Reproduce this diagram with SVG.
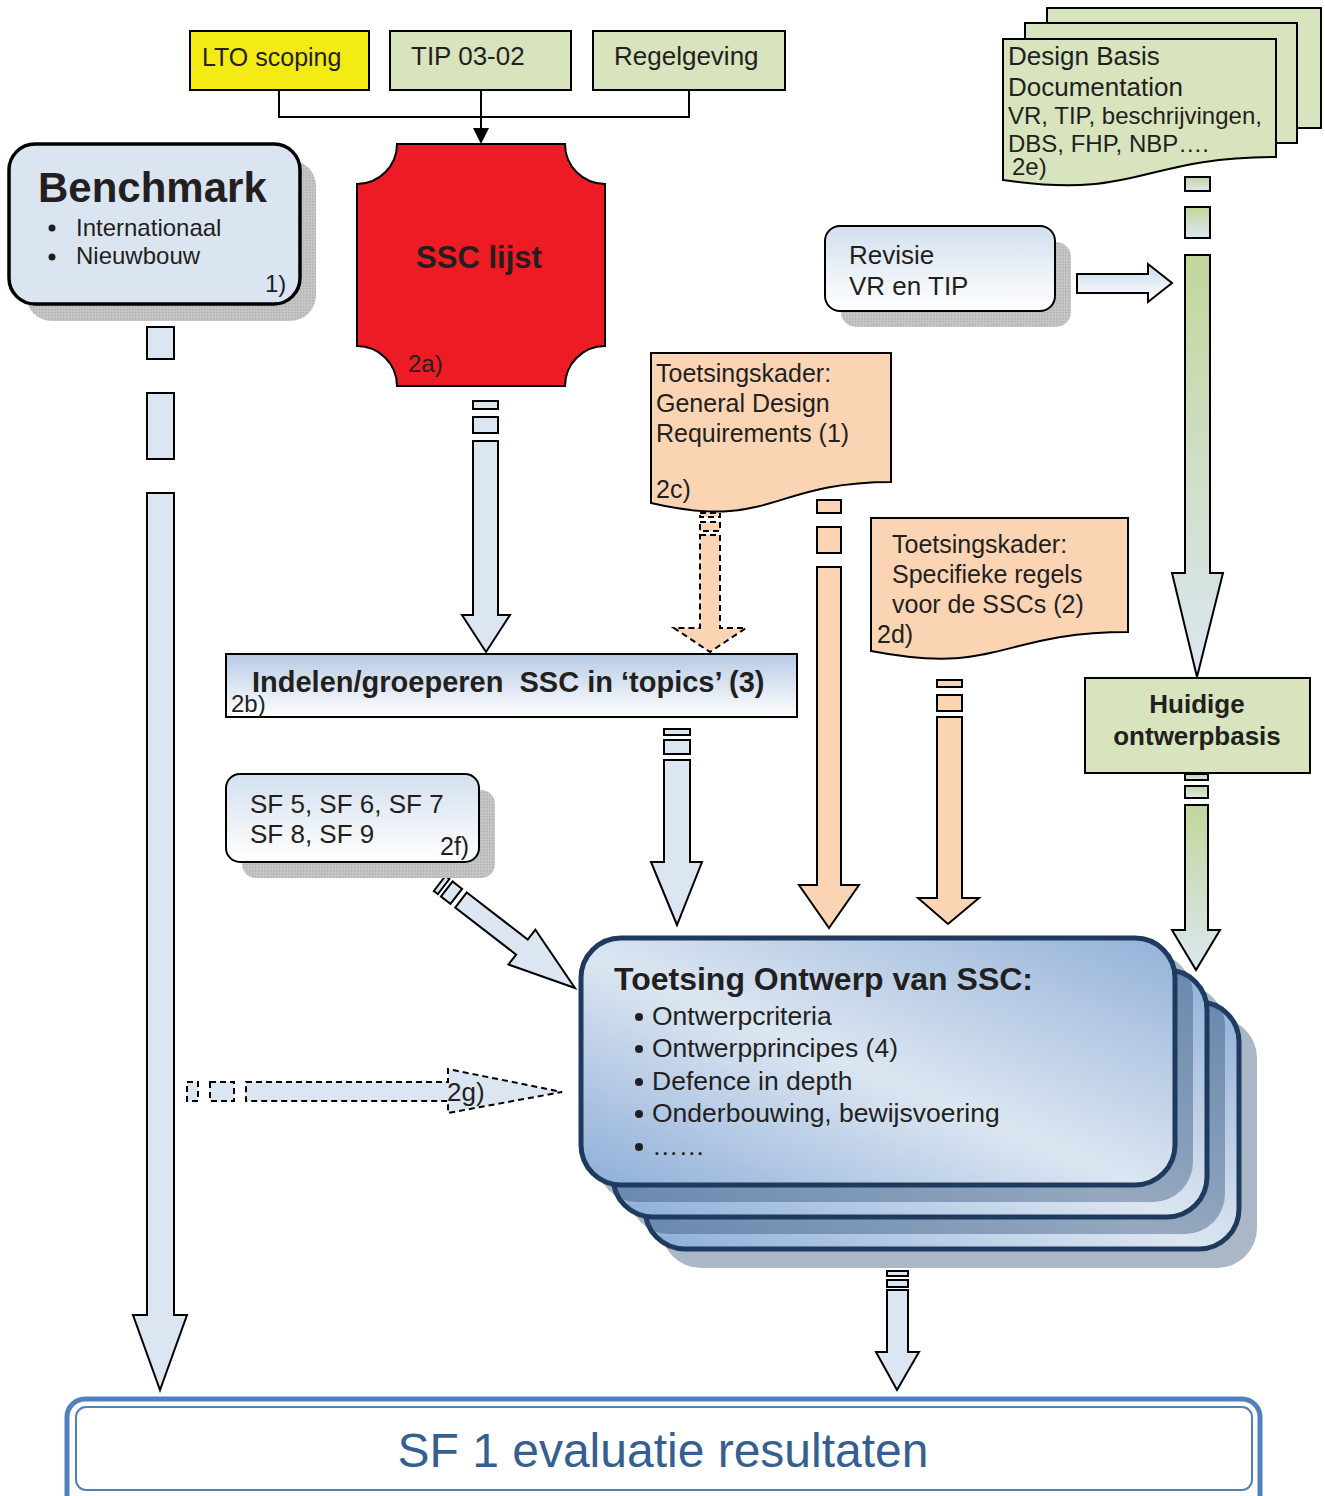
<svg xmlns="http://www.w3.org/2000/svg" width="1325" height="1496" viewBox="0 0 1325 1496">
<defs>
<linearGradient id="gLight" x1="0" y1="0" x2="0" y2="1"><stop offset="0" stop-color="#d3e0ef"/><stop offset="1" stop-color="#ffffff"/></linearGradient>
<linearGradient id="gIndelen" x1="0" y1="0" x2="0" y2="1"><stop offset="0" stop-color="#b7cbe4"/><stop offset="1" stop-color="#ffffff"/></linearGradient>
<linearGradient id="gGreen" x1="0" y1="0" x2="0" y2="1"><stop offset="0" stop-color="#c3d69b"/><stop offset="1" stop-color="#dce6f2"/></linearGradient>
<linearGradient id="gArrowR" x1="0" y1="0" x2="0" y2="1"><stop offset="0" stop-color="#c9dbef"/><stop offset="1" stop-color="#ffffff"/></linearGradient>
<linearGradient id="gToets" x1="0" y1="1" x2="1" y2="0"><stop offset="0" stop-color="#8eaed8"/><stop offset="0.47" stop-color="#dce6f2"/><stop offset="1" stop-color="#93b1d8"/></linearGradient>
<pattern id="hatch" width="3" height="3" patternUnits="userSpaceOnUse"><rect width="3" height="3" fill="#c6c6c6"/><rect width="1.5" height="1.5" fill="#b0b0b0"/></pattern>
</defs>
<style>
.t{font-family:"Liberation Sans",Arial,Helvetica,sans-serif;fill:#231f20}
.b{font-weight:bold}
.ln{fill:none;stroke:#000;stroke-width:2}
.arr{fill:#dce6f2;stroke:#000;stroke-width:2}
.org{fill:#fbd4b4;stroke:#000;stroke-width:2}
.grn{fill:url(#gGreen);stroke:#000;stroke-width:2}
.dash{stroke-dasharray:6,4}
.shadow{fill:url(#hatch)}
.tbox{fill:url(#gToets);stroke:#1f3a5f;stroke-width:5}
.tsh{fill:#2a4a70;opacity:0.4}
</style>

<g id="connectors">
  <path class="ln" d="M279,90 V117 H689 V90"/>
  <path class="ln" d="M481,90 V130"/>
  <path d="M473,128 L489,128 L481,144 Z" fill="#000"/>
  <rect class="arr" x="147" y="327" width="27" height="32"/>
  <rect class="arr" x="147" y="393" width="27" height="66"/>
  <path class="arr" d="M147,493 H174 V1315 H187 L160,1390 L133,1315 H147 Z"/>
  <rect class="arr" x="473" y="401" width="25" height="8"/>
  <rect class="arr" x="473" y="417" width="25" height="16"/>
  <path class="arr" d="M473,441 H498 V615 H510 L486,652 L462,615 H473 Z"/>
  <rect class="org dash" x="700" y="513" width="20" height="4"/>
  <rect class="org dash" x="700" y="522" width="20" height="9"/>
  <path class="org dash" d="M700,535 H720 V628 H746 L710,652 L674,628 H700 Z"/>
  <rect class="org" x="817" y="500" width="24" height="13"/>
  <rect class="org" x="817" y="527" width="24" height="26"/>
  <path class="org" d="M817,567 H841 V885 H859 L829,928 L799,885 H817 Z"/>
  <rect class="org" x="937" y="680" width="25" height="7"/>
  <rect class="org" x="937" y="695" width="25" height="16"/>
  <path class="org" d="M937,717 H962 V898 H979 L948,924 L918,898 H937 Z"/>
  <rect class="arr" x="664" y="729" width="26" height="6"/>
  <rect class="arr" x="664" y="740" width="26" height="14"/>
  <path class="arr" d="M664,760 H690 V862 H702 L677,925 L651,862 H664 Z"/>
  <rect class="grn" x="1185" y="177" width="25" height="14"/>
  <rect class="grn" x="1185" y="207" width="25" height="31"/>
  <path class="grn" d="M1185,255 H1210 V573 H1223 L1197,677 L1172,573 H1185 Z"/>
  <path d="M1077,274 H1148 V264 L1172,283 L1148,302 V293 H1077 Z" fill="url(#gArrowR)" stroke="#000" stroke-width="2"/>
  <rect class="grn" x="1185" y="774" width="23" height="6"/>
  <rect class="grn" x="1185" y="786" width="23" height="12"/>
  <path class="grn" d="M1185,805 H1208 V930 H1220 L1196,970 L1172,930 H1185 Z"/>
  <g transform="translate(461,900) rotate(37.7)">
    <rect class="arr" x="-27" y="-9.5" width="5" height="19"/>
    <rect class="arr" x="-18" y="-9.5" width="12" height="19"/>
    <path class="arr" d="M0,-9.5 H77 V-22 L144,0 L77,22 V9.5 H0 Z"/>
  </g>
  <rect class="arr dash" x="187" y="1082" width="11" height="19"/>
  <rect class="arr dash" x="210" y="1082" width="24" height="19"/>
  <path class="arr dash" d="M246,1082 H448 V1069 L562,1092 L448,1113 V1101 H246 Z"/>
  <text class="t" x="447" y="1101" font-size="26">2g)</text>
  <rect class="arr" x="887" y="1271" width="21" height="5"/>
  <rect class="arr" x="887" y="1280" width="21" height="7"/>
  <path class="arr" d="M887,1290 H908 V1352 H919 L897,1390 L876,1352 H887 Z"/>
</g>

<g id="lto">
  <rect x="190" y="31" width="179" height="59" fill="#f4ea14" stroke="#000" stroke-width="2"/>
  <text class="t" x="202" y="66" font-size="25">LTO scoping</text>
</g>
<g id="tip">
  <rect x="390" y="31" width="181" height="59" fill="#d7e4bd" stroke="#000" stroke-width="2"/>
  <text class="t" x="411" y="65" font-size="26">TIP 03-02</text>
</g>
<g id="regelgeving">
  <rect x="593" y="31" width="192" height="59" fill="#d7e4bd" stroke="#000" stroke-width="2"/>
  <text class="t" x="614" y="65" font-size="26">Regelgeving</text>
</g>

<g id="benchmark">
  <rect class="shadow" x="26" y="160" width="290" height="161" rx="26"/>
  <rect x="9" y="144" width="291" height="160" rx="26" fill="#dbe5f1" stroke="#000" stroke-width="3.5"/>
  <text class="t b" x="38" y="202" font-size="42">Benchmark</text>
  <circle cx="52" cy="228" r="3.5" fill="#231f20"/>
  <circle cx="52" cy="257" r="3.5" fill="#231f20"/>
  <text class="t" x="76" y="236" font-size="24">Internationaal</text>
  <text class="t" x="76" y="264" font-size="24">Nieuwbouw</text>
  <text class="t" x="265" y="292" font-size="24">1)</text>
</g>

<g id="ssc">
  <path d="M397,144 H565 A40,40 0 0 0 605,184 V346 A40,40 0 0 0 565,386 H397 A40,40 0 0 0 357,346 V184 A40,40 0 0 0 397,144 Z" fill="#ed1c24" stroke="#000" stroke-width="2"/>
  <text class="t b" x="479" y="268" font-size="31" text-anchor="middle">SSC lijst</text>
  <text class="t" x="408" y="372" font-size="24">2a)</text>
</g>

<g id="designbasis">
  <rect x="1047" y="8" width="274" height="120" fill="#d7e4bd" stroke="#000" stroke-width="2"/>
  <rect x="1025" y="23" width="272" height="120" fill="#d7e4bd" stroke="#000" stroke-width="2"/>
  <path d="M1003,39 H1276 V157 C1140,157 1140,200 1003,180 Z" fill="#d7e4bd" stroke="#000" stroke-width="2"/>
  <text class="t" x="1008" y="65" font-size="26">Design Basis</text>
  <text class="t" x="1008" y="96" font-size="26">Documentation</text>
  <text class="t" x="1008" y="124" font-size="24">VR, TIP, beschrijvingen,</text>
  <text class="t" x="1008" y="152" font-size="24">DBS, FHP, NBP….</text>
  <text class="t" x="1012" y="175" font-size="24">2e)</text>
</g>

<g id="revisie">
  <rect class="shadow" x="841" y="242" width="230" height="85" rx="15"/>
  <rect x="825" y="226" width="230" height="85" rx="15" fill="url(#gLight)" stroke="#000" stroke-width="2"/>
  <text class="t" x="849" y="264" font-size="26">Revisie</text>
  <text class="t" x="849" y="295" font-size="26">VR en TIP</text>
</g>

<g id="gdr">
  <path d="M651,353 H891 V482 C771,482 771,531 651,503 Z" fill="#fbd4b4" stroke="#000" stroke-width="2"/>
  <text class="t" x="656" y="382" font-size="25">Toetsingskader:</text>
  <text class="t" x="656" y="412" font-size="25">General Design</text>
  <text class="t" x="656" y="442" font-size="25">Requirements (1)</text>
  <text class="t" x="656" y="498" font-size="25">2c)</text>
</g>

<g id="specifiek">
  <path d="M871,518 H1128 V632 C1000,632 1000,676 871,651 Z" fill="#fbd4b4" stroke="#000" stroke-width="2"/>
  <text class="t" x="892" y="553" font-size="25">Toetsingskader:</text>
  <text class="t" x="892" y="583" font-size="25">Specifieke regels</text>
  <text class="t" x="892" y="613" font-size="25">voor de SSCs (2)</text>
  <text class="t" x="877" y="643" font-size="25">2d)</text>
</g>

<g id="huidige">
  <rect x="1085" y="678" width="225" height="95" fill="#d7e4bd" stroke="#000" stroke-width="2"/>
  <text class="t b" x="1197" y="713" font-size="26" text-anchor="middle">Huidige</text>
  <text class="t b" x="1197" y="745" font-size="26" text-anchor="middle">ontwerpbasis</text>
</g>

<g id="indelen">
  <rect x="226" y="654" width="571" height="63" fill="url(#gIndelen)" stroke="#000" stroke-width="2"/>
  <text class="t b" x="252" y="692" font-size="29" xml:space="preserve">Indelen/groeperen  SSC in ‘topics’ (3)</text>
  <text class="t" x="231" y="712" font-size="24">2b)</text>
</g>

<g id="sf5">
  <rect class="shadow" x="242" y="790" width="253" height="88" rx="14"/>
  <rect x="226" y="774" width="253" height="88" rx="14" fill="url(#gLight)" stroke="#000" stroke-width="2"/>
  <text class="t" x="250" y="813" font-size="26">SF 5, SF 6, SF 7</text>
  <text class="t" x="250" y="843" font-size="26">SF 8, SF 9</text>
  <text class="t" x="440" y="855" font-size="25">2f)</text>
</g>

<g id="toetsing">
  <rect class="tsh" x="661" y="1018" width="596" height="250" rx="40"/>
  <rect class="tbox" x="645" y="1002" width="594" height="247" rx="40"/>
  <rect class="tsh" x="629" y="986" width="596" height="248" rx="40"/>
  <rect class="tbox" x="613" y="970" width="594" height="247" rx="40"/>
  <rect class="tsh" x="597" y="954" width="596" height="248" rx="40"/>
  <rect class="tbox" x="581" y="938" width="594" height="247" rx="40"/>
  <text class="t b" x="614" y="990" font-size="32">Toetsing Ontwerp van SSC:</text>
  <g class="t" font-size="26.5">
    <circle cx="639" cy="1017" r="4" fill="#231f20"/>
    <circle cx="639" cy="1049" r="4" fill="#231f20"/>
    <circle cx="639" cy="1082" r="4" fill="#231f20"/>
    <circle cx="639" cy="1114" r="4" fill="#231f20"/>
    <circle cx="639" cy="1147" r="4" fill="#231f20"/>
    <text x="652" y="1025">Ontwerpcriteria</text>
    <text x="652" y="1057">Ontwerpprincipes (4)</text>
    <text x="652" y="1090">Defence in depth</text>
    <text x="652" y="1122">Onderbouwing, bewijsvoering</text>
    <text x="652" y="1155">……</text>
  </g>
</g>

<g id="sf1">
  <rect x="67" y="1399" width="1193" height="130" rx="18" fill="#ffffff" stroke="#4f81bd" stroke-width="5"/>
  <rect x="76" y="1407" width="1176" height="83" rx="10" fill="#ffffff" stroke="#4f81bd" stroke-width="2"/>
  <text class="t" x="663" y="1467" font-size="48" text-anchor="middle" style="fill:#365f91">SF 1 evaluatie resultaten</text>
</g>
</svg>
